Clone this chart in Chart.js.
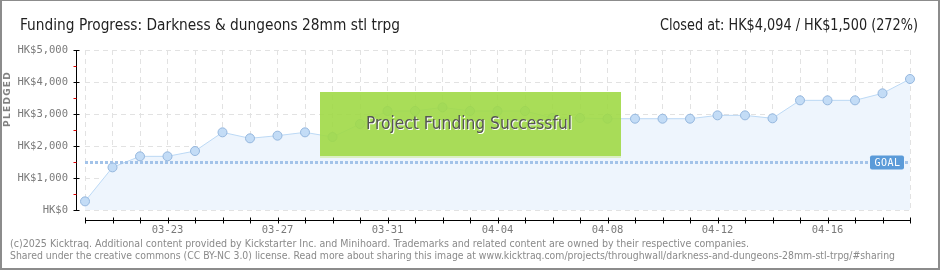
<!DOCTYPE html>
<html>
<head>
<meta charset="utf-8">
<script src="https://cdn.jsdelivr.net/npm/chart.js@4.4.1/dist/chart.umd.min.js"></script>
<style>
    body { margin: 0; background: #fff; }
    #frame { position: relative; width: 940px; height: 270px; overflow: hidden; background: #fff; }
    #chart { position: absolute; left: 0; top: 0; }
    #border { position: absolute; left: 0; top: 0; width: 940px; height: 270px; box-sizing: border-box;
        border: 2px solid #8c8c8c; border-top-width: 1px; pointer-events: none; }
    .txt { position: absolute; white-space: nowrap; line-height: 1; }
    #title { left: 20px; top: 16px; font: 15px "DejaVu Sans Condensed", sans-serif; color: #222; transform-origin: left center; }
    #closed { right: 22px; top: 16px; font: 15px "DejaVu Sans Condensed", sans-serif; color: #222; transform-origin: right center; }
    #ylabel { left: 2px; top: 127px; font: bold 9px "DejaVu Sans", sans-serif; color: #808080; letter-spacing: 1.3px;
        transform: rotate(-90deg); transform-origin: left top; }
    .foot { left: 10px; font: 10.5px "DejaVu Sans", sans-serif; color: #8a8a8a; transform-origin: left center; }
    #foot1 { top: 237px; }
    #foot2 { top: 249px; }
    #success { position: absolute; left: 320px; top: 92px; width: 301px; height: 64px;
        background: rgba(160, 217, 70, 0.9); border-bottom: 2px solid #dcefc4; }
    #success span { position: absolute; left: 46px; top: 22px; font: 18px "DejaVu Sans Condensed", sans-serif;
        color: #555; text-shadow: 1px 1px 0 #fff; white-space: nowrap; line-height: 1; transform-origin: left center; }
</style>
</head>
<body>
<div id="frame">
    <canvas id="chart" width="940" height="270"></canvas>
    <div id="success"><span id="successText">Project Funding Successful</span></div>
    <div class="txt" id="title">Funding Progress: Darkness &amp; dungeons 28mm stl trpg</div>
    <div class="txt" id="closed">Closed at: HK$4,094 / HK$1,500 (272%)</div>
    <div class="txt" id="ylabel">PLEDGED</div>
    <div class="txt foot" id="foot1">(c)2025 Kicktraq. Additional content provided by Kickstarter Inc. and Minihoard. Trademarks and related content are owned by their respective companies.</div>
    <div class="txt foot" id="foot2">Shared under the creative commons (CC BY-NC 3.0) license. Read more about sharing this image at www.kicktraq.com/projects/throughwall/darkness-and-dungeons-28mm-stl-trpg/#sharing</div>
    <div id="border"></div>
</div>
<script>
// ==================== DATA ====================

const dateLabels = [
    '03-20', '03-21', '03-22', '03-23', '03-24', '03-25', '03-26', '03-27',
    '03-28', '03-29', '03-30', '03-31', '04-01', '04-02', '04-03', '04-04',
    '04-05', '04-06', '04-07', '04-08', '04-09', '04-10', '04-11', '04-12',
    '04-13', '04-14', '04-15', '04-16', '04-17', '04-18', '04-19'
];

const pledged = [
    270, 1333, 1677, 1677, 1843, 2427, 2240, 2323,
    2427, 2281, 2687, 3094, 3094, 3208, 3094, 3094,
    3094, 2875, 2875, 2853, 2853, 2853, 2853, 2958,
    2958, 2865, 3427, 3427, 3427, 3646, 4094
];

const goalValue = 1500;
const yMax = 5000;
const yStep = 1000;

// ==================== HELPERS ====================

function formatHK(value) {
    return 'HK$' + value.toLocaleString('en-US');
}

function fitWidth(id, targetWidth) {
    const el = document.getElementById(id);
    const w = el.getBoundingClientRect().width;
    el.style.transform = `scaleX(${targetWidth / w})`;
}

// ==================== PLUGINS ====================

// goal line with its little label
const goalPlugin = {
    id: 'goalLine',
    afterDatasetsDraw(chart) {
        const { ctx, chartArea, scales: { y } } = chart;
        const gy = Math.round(y.getPixelForValue(goalValue)) + 0.5;
        ctx.save();
        ctx.strokeStyle = '#a3c3e9';
        ctx.lineWidth = 3;
        ctx.setLineDash([3, 2]);
        ctx.beginPath();
        ctx.moveTo(chartArea.left, gy);
        ctx.lineTo(chartArea.right, gy);
        ctx.stroke();
        ctx.setLineDash([]);

        const bw = 34, bh = 14;
        const bx = chartArea.right - 6 - bw;
        const by = gy - bh / 2;
        ctx.fillStyle = '#5b9bd9';
        ctx.beginPath();
        ctx.roundRect(bx, by, bw, bh, 2);
        ctx.fill();
        ctx.fillStyle = '#fff';
        ctx.font = '10px "DejaVu Sans Mono", monospace';
        ctx.letterSpacing = '0.5px';
        ctx.textAlign = 'center';
        ctx.textBaseline = 'middle';
        ctx.fillText('GOAL', bx + bw / 2 + 0.5, gy + 0.5);
        ctx.restore();
    }
};

// offset axis lines with black major ticks and red half-step ticks
const axesPlugin = {
    id: 'offsetAxes',
    afterDraw(chart) {
        const { ctx, chartArea, scales: { x, y } } = chart;
        const ax = Math.round(chartArea.left - 9) + 0.5;
        const ay = Math.round(chartArea.bottom + 10) + 0.5;
        ctx.save();
        ctx.lineWidth = 1;

        ctx.strokeStyle = '#000';
        ctx.beginPath();
        ctx.moveTo(ax, chartArea.top);
        ctx.lineTo(ax, chartArea.bottom + 1);
        for (let v = 0; v <= yMax; v += yStep) {
            const py = Math.round(y.getPixelForValue(v)) + 0.5;
            ctx.moveTo(ax - 3, py);
            ctx.lineTo(ax + 3, py);
        }
        ctx.moveTo(x.getPixelForValue(0), ay);
        ctx.lineTo(x.getPixelForValue(dateLabels.length - 1) + 1, ay);
        dateLabels.forEach((_, i) => {
            const px = Math.round(x.getPixelForValue(i)) + 0.5;
            ctx.moveTo(px, ay - 3);
            ctx.lineTo(px, ay + 3);
        });
        ctx.stroke();

        ctx.strokeStyle = '#e00000';
        ctx.beginPath();
        for (let v = yStep / 2; v < yMax; v += yStep) {
            const py = Math.round(y.getPixelForValue(v)) + 0.5;
            ctx.moveTo(ax - 3, py);
            ctx.lineTo(ax, py);
        }
        ctx.stroke();
        ctx.restore();
    }
};

// ==================== CHART ====================

const tickFont = { family: '"DejaVu Sans Mono", monospace', size: 10.5 };

new Chart(document.getElementById('chart'), {
    type: 'line',
    data: {
        labels: dateLabels,
        datasets: [{
            data: pledged,
            borderColor: '#bcd9f5',
            borderWidth: 1,
            backgroundColor: '#eef5fd',
            fill: 'origin',
            tension: 0,
            pointRadius: 4.5,
            pointBackgroundColor: '#c3dcf6',
            pointBorderColor: '#95b7de',
            pointBorderWidth: 1
        }]
    },
    options: {
        responsive: false,
        animation: false,
        devicePixelRatio: 1,
        layout: { padding: { left: 0, right: 30, top: 50, bottom: 0 } },
        plugins: {
            legend: { display: false },
            tooltip: { enabled: false }
        },
        scales: {
            x: {
                offset: false,
                afterFit: scale => { scale.height = 60; },
                grid: { color: '#e2e2e2', drawTicks: false },
                border: { display: false, dash: [5, 4] },
                ticks: {
                    autoSkip: false,
                    maxRotation: 0,
                    padding: 14,
                    color: '#7a7a7a',
                    font: tickFont,
                    callback: (value, index) => (index % 4 === 3 ? dateLabels[index] : '')
                }
            },
            y: {
                min: 0,
                max: yMax,
                afterFit: scale => { scale.width = 85; },
                grid: { color: '#e2e2e2', drawTicks: false },
                border: { display: false, dash: [5, 4] },
                ticks: {
                    stepSize: yStep,
                    padding: 17,
                    color: '#7a7a7a',
                    font: tickFont,
                    callback: value => formatHK(value)
                }
            }
        }
    },
    plugins: [goalPlugin, axesPlugin]
});

fitWidth('title', 380);
fitWidth('closed', 258);
fitWidth('successText', 206);
fitWidth('foot1', 739);
fitWidth('foot2', 885);
</script>
</body>
</html>
